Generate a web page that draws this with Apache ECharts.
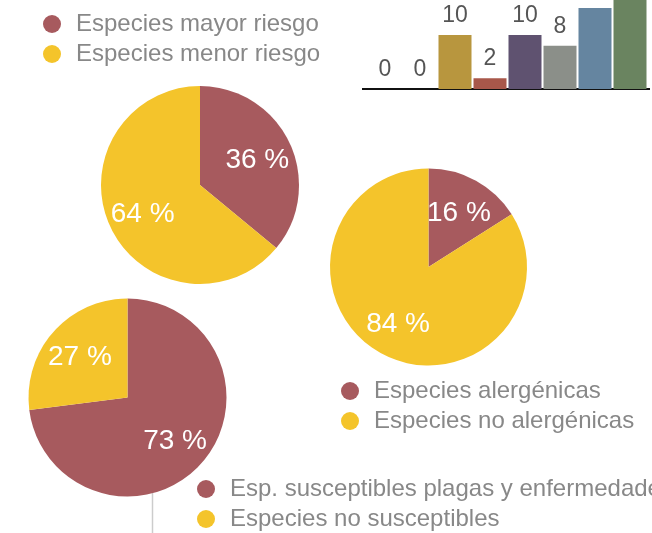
<!DOCTYPE html>
<html>
<head>
<meta charset="utf-8">
<script src="https://cdn.jsdelivr.net/npm/echarts@6/dist/echarts.min.js"></script>
<style>html,body{margin:0;padding:0;background:#fff}#c{width:652px;height:533px}</style>
</head>
<body>
<div id="c"></div>
<script>
// ---- data ----
var barCategories = ['a', 'b', 'c', 'd', 'e', 'f', 'g', 'h'];
var barValues = [0, 0, 10, 2, 10, 8, 15, 18];
var barColors = ['#b8963e', '#b8963e', '#b8963e', '#a8574a', '#5f5270', '#8b8f89', '#6585a0', '#6a8460'];

var pie1Names = ['Especies mayor riesgo', 'Especies menor riesgo'];
var pie1Values = [36, 64];
var pie2Names = ['Especies alergénicas', 'Especies no alergénicas'];
var pie2Values = [16, 84];
var pie3Names = ['Esp. susceptibles plagas y enfermedades', 'Especies no susceptibles'];
var pie3Values = [73, 27];
var pieColors = ['#a75a5e', '#f4c42b'];

var FONT = 'Liberation Sans, Arial, Helvetica, sans-serif';

function pieData(names, values) {
  return names.map(function (n, i) {
    return { name: n, value: values[i], itemStyle: { color: pieColors[i] } };
  });
}

function pieSeries(names, values, center, r) {
  return [
    {
      type: 'pie', center: center, radius: [0, r], startAngle: 90, clockwise: true,
      silent: true, animation: false,
      label: { show: false }, labelLine: { show: false },
      data: pieData(names, values)
    },
    {
      type: 'pie', center: center, radius: [r * 0.22, r], startAngle: 90, clockwise: true,
      silent: true, animation: false,
      itemStyle: { color: 'rgba(0,0,0,0)' },
      label: {
        show: true, position: 'inside', formatter: '{c} %', offset: [0, 2],
        color: '#ffffff', fontSize: 28, fontFamily: FONT
      },
      labelLine: { show: false },
      data: names.map(function (n, i) { return { name: n, value: values[i], itemStyle: { color: 'rgba(0,0,0,0)' } }; })
    }
  ];
}

function legend(names, left, top) {
  return {
    data: names, orient: 'vertical', left: left, top: top, padding: 0,
    icon: 'circle', itemWidth: 18, itemHeight: 18, itemGap: 6,
    selectedMode: false,
    textStyle: { color: '#888888', fontSize: 24, fontFamily: FONT, lineHeight: 24, padding: [0, 0, 0, 10] }
  };
}

var chart = echarts.init(document.getElementById('c'));
chart.setOption({
  animation: false,
  backgroundColor: '#ffffff',
  grid: { left: 367.5, width: 280, top: 0, height: 89, containLabel: false },
  xAxis: {
    type: 'category', data: barCategories,
    axisLine: { show: true, lineStyle: { color: '#111', width: 2 } },
    axisTick: { show: false }, axisLabel: { show: false }
  },
  yAxis: { type: 'value', min: 0, max: 16.5, show: false, splitLine: { show: false } },
  legend: [
    legend(pie1Names, 43, 12),
    legend(pie2Names, 341, 379),
    legend(pie3Names, 197, 477)
  ],
  graphic: [
    { type: 'line', shape: { x1: 362, y1: 89, x2: 650, y2: 89 }, style: { stroke: '#111', lineWidth: 2 } },
    { type: 'line', shape: { x1: 152.5, y1: 490, x2: 152.5, y2: 533 }, style: { stroke: '#cccccc', lineWidth: 1.5 } }
  ],
  series: [].concat(
    pieSeries(pie1Names, pie1Values, [200, 185], 99),
    pieSeries(pie2Names, pie2Values, [428.5, 267], 98.5),
    pieSeries(pie3Names, pie3Values, [127.5, 397.5], 99),
    [{
      type: 'bar', barWidth: 33, clip: false, silent: true,
      data: barValues.map(function (v, i) { return { value: v, itemStyle: { color: barColors[i] } }; }),
      label: { show: true, position: 'top', distance: 8, color: '#555555', fontSize: 23, fontFamily: FONT }
    }]
  )
});
</script>
</body>
</html>
